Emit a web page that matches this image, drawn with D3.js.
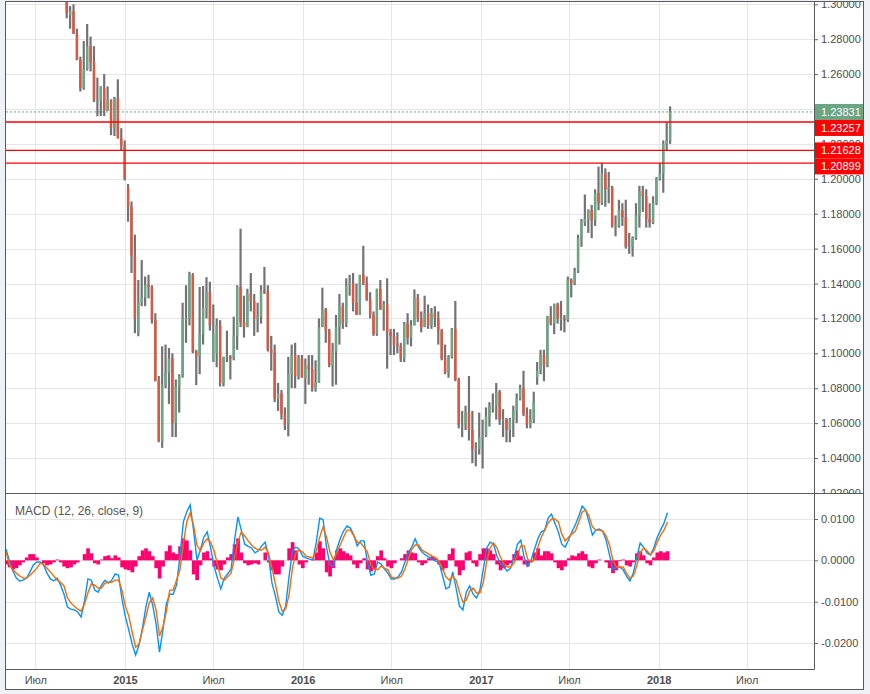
<!DOCTYPE html>
<html>
<head>
<meta charset="utf-8">
<script src="https://cdn.jsdelivr.net/npm/d3@7/dist/d3.min.js"></script>
<style>
html,body{margin:0;padding:0;background:#eef1f5;}
svg{display:block;}
text{font-family:"Liberation Sans",Arial,Helvetica,sans-serif;}
</style>
</head>
<body>
<svg id="chart" width="870" height="694"></svg>
<script>
// ---------------- DATA (EUR/USD, weekly candles) ----------------
const candleStart = "2014-09-03T12:00:00Z"; // mid-week of first candle, one candle per week
const openP = [
1.3130,1.2940,1.2960,1.2830,1.2680,1.2520,1.2630,1.2760,1.2670,1.2450,1.2450,1.2520,1.2390,1.2450,1.2290,1.2460,1.2230,1.2190,
1.1950,1.1840,1.1560,1.1120,1.1290,1.1320,1.1390,1.1380,1.1190,1.0840,1.0495,1.0820,1.0890,1.0970,1.0600,1.0810,1.0870,1.1200,1.1200,1.1450,
1.1010,1.0980,1.1110,1.1260,1.1350,1.0950,1.1000,1.1160,1.0830,1.0980,1.0980,1.0970,1.1100,1.1380,1.1180,1.1150,1.1340,1.1300,1.1200,1.1210,
1.1360,1.1350,1.1020,1.1000,1.0740,1.0770,1.0650,1.0590,1.0880,1.0990,1.0870,1.0970,
1.0860,1.0930,1.0910,1.0800,1.0830,1.1150,1.1250,1.1130,1.0930,1.1010,1.1150,1.1270,1.1170,1.1390,1.1400,1.1290,1.1220,1.1450,1.1400,1.1310,
1.1220,1.1110,1.1370,1.1250,1.1280,1.1120,1.1100,1.1050,1.1040,1.0970,1.1170,1.1090,1.1160,1.1320,1.1200,1.1150,1.1230,1.1160,1.1230,1.1200,
1.1130,1.0970,1.0890,1.0980,1.1140,1.0850,1.0590,1.0590,1.0660,1.0560,1.0450,1.0450,
1.0520,1.0530,1.0640,1.0700,1.0700,1.0780,1.0620,1.0620,1.0560,1.0620,1.0670,1.0740,1.0800,1.0650,1.0590,1.0620,1.0860,1.0900,1.0990,1.0930,
1.1210,1.1170,1.1280,1.1200,1.1200,1.1190,1.1420,1.1400,1.1470,1.1660,1.1750,1.1770,1.1820,1.1760,1.1920,1.1860,1.2030,1.1940,1.1950,1.1730,
1.1730,1.1820,1.1780,1.1610,1.1610,1.1660,1.1790,1.1930,1.1900,1.1770,1.1750,1.1860,
1.2000,1.2030,1.2200,1.2220];
const highP = [
1.3160,1.2990,1.3000,1.2860,1.2700,1.2790,1.2887,1.2815,1.2760,1.2580,1.2530,1.2600,1.2530,1.2456,1.2470,1.2570,1.2290,1.2220,
1.1970,1.1870,1.1680,1.1420,1.1534,1.1440,1.1450,1.1390,1.1230,1.0870,1.1040,1.1050,1.1030,1.1000,1.0850,1.0880,1.1290,1.1390,1.1467,1.1460,
1.1020,1.1380,1.1386,1.1436,1.1410,1.1280,1.1200,1.1190,1.0980,1.1130,1.0990,1.1210,1.1390,1.1714,1.1330,1.1370,1.1460,1.1340,1.1290,1.1390,
1.1495,1.1390,1.1100,1.1050,1.0830,1.0790,1.0690,1.0980,1.1050,1.1060,1.0990,1.0990,
1.0970,1.0990,1.0990,1.0960,1.1200,1.1376,1.1260,1.1140,1.1060,1.1220,1.1340,1.1290,1.1430,1.1450,1.1460,1.1400,1.1450,1.1616,1.1440,1.1350,
1.1240,1.1370,1.1420,1.1300,1.1430,1.1140,1.1140,1.1120,1.1060,1.1180,1.1230,1.1190,1.1366,1.1340,1.1240,1.1330,1.1280,1.1260,1.1270,1.1240,
1.1140,1.1050,1.0990,1.1145,1.1300,1.0860,1.0670,1.0700,1.0870,1.0670,1.0490,1.0660,
1.0620,1.0690,1.0720,1.0770,1.0830,1.0790,1.0680,1.0630,1.0630,1.0700,1.0770,1.0820,1.0900,1.0690,1.0680,1.0780,1.0950,1.1020,1.1020,1.1215,
1.1270,1.1285,1.1290,1.1300,1.1220,1.1440,1.1430,1.1490,1.1680,1.1770,1.1910,1.1825,1.1850,1.1940,1.2070,1.2092,1.2060,1.2040,1.1960,1.1790,
1.1880,1.1860,1.1880,1.1690,1.1670,1.1860,1.1960,1.1960,1.1940,1.1860,1.1900,1.2010,
1.2090,1.2220,1.2323,1.2415];
const lowP = [
1.2920,1.2860,1.2830,1.2680,1.2500,1.2510,1.2620,1.2615,1.2440,1.2358,1.2360,1.2360,1.2390,1.2250,1.2245,1.2240,1.2160,1.1990,
1.1754,1.1460,1.1115,1.1098,1.1270,1.1270,1.1315,1.1170,1.0840,1.0490,1.0458,1.0800,1.0710,1.0520,1.0520,1.0660,1.0860,1.1060,1.1160,1.1000,
1.0818,1.0880,1.1050,1.1200,1.1130,1.0950,1.0920,1.0810,1.0810,1.0950,1.0850,1.0960,1.1020,1.1150,1.1090,1.1150,1.1240,1.1100,1.1120,1.1170,
1.1340,1.1010,1.0900,1.0720,1.0670,1.0620,1.0560,1.0524,1.0800,1.0800,1.0850,1.0860,
1.0710,1.0820,1.0780,1.0780,1.0830,1.1150,1.1060,1.0920,1.0810,1.0820,1.1050,1.1140,1.1150,1.1330,1.1240,1.1220,1.1220,1.1390,1.1300,1.1200,
1.1100,1.1100,1.1250,1.1130,1.0912,1.0990,1.0990,1.1000,1.0950,1.0950,1.1050,1.1040,1.1160,1.1180,1.1120,1.1150,1.1140,1.1140,1.1150,1.1050,
1.0960,1.0880,1.0860,1.0970,1.0840,1.0570,1.0520,1.0560,1.0500,1.0370,1.0352,1.0420,
1.0340,1.0520,1.0580,1.0660,1.0620,1.0590,1.0520,1.0490,1.0490,1.0520,1.0600,1.0730,1.0640,1.0570,1.0570,1.0600,1.0820,1.0880,1.0840,1.0920,
1.1160,1.1110,1.1170,1.1130,1.1120,1.1180,1.1320,1.1390,1.1460,1.1610,1.1730,1.1690,1.1660,1.1730,1.1820,1.1850,1.1840,1.1860,1.1720,1.1670,
1.1720,1.1730,1.1600,1.1570,1.1554,1.1650,1.1720,1.1810,1.1720,1.1720,1.1740,1.1850,
1.1990,1.1920,1.2160,1.2200];
const closeP = [
1.2950,1.2960,1.2830,1.2680,1.2520,1.2630,1.2760,1.2670,1.2450,1.2450,1.2530,1.2390,1.2450,1.2290,1.2460,1.2230,1.2190,1.2000,
1.1840,1.1560,1.1200,1.1290,1.1320,1.1390,1.1380,1.1190,1.0840,1.0495,1.0820,1.0890,1.0970,1.0600,1.0810,1.0870,1.1200,1.1200,1.1450,1.1010,
1.0980,1.1110,1.1260,1.1350,1.1160,1.1110,1.1160,1.0830,1.0980,1.0980,1.0970,1.1100,1.1380,1.1180,1.1150,1.1340,1.1300,1.1200,1.1210,1.1360,
1.1350,1.1020,1.1000,1.0740,1.0770,1.0650,1.0590,1.0880,1.0990,1.0870,1.0970,1.0860,
1.0930,1.0910,1.0800,1.0830,1.1150,1.1250,1.1130,1.0930,1.1010,1.1150,1.1270,1.1170,1.1390,1.1400,1.1290,1.1220,1.1450,1.1400,1.1310,1.1220,
1.1110,1.1370,1.1250,1.1280,1.1120,1.1100,1.1050,1.1040,1.0970,1.1170,1.1090,1.1160,1.1320,1.1200,1.1150,1.1230,1.1160,1.1230,1.1200,1.1130,
1.0970,1.0890,1.0980,1.1140,1.0850,1.0590,1.0590,1.0660,1.0560,1.0450,1.0450,1.0520,
1.0530,1.0640,1.0700,1.0700,1.0780,1.0620,1.0620,1.0560,1.0620,1.0670,1.0740,1.0800,1.0650,1.0590,1.0620,1.0720,1.0900,1.0990,1.0930,1.1210,
1.1170,1.1280,1.1200,1.1200,1.1190,1.1420,1.1400,1.1470,1.1660,1.1750,1.1770,1.1820,1.1760,1.1920,1.1860,1.2030,1.1940,1.1950,1.1730,1.1730,
1.1820,1.1780,1.1610,1.1610,1.1660,1.1790,1.1930,1.1900,1.1770,1.1750,1.1860,1.2000,
1.2030,1.2200,1.2220,1.2383];

// MACD pane, one reading per week, values in units of 0.0001
const macdStart = "2014-05-02T00:00:00Z";
const macdPips = [
27,-2,-26,-43,-50,-48,-43,-28,-11,-4, -4,-11,-31,-45,-50,-43,-60,-82,-113,-118,
-120,-125,-137,-99,-45,-48,-72,-77,-60,-48, -55,-48,-33,-36,-94,-137,-169,-203,-229,-205,
-164,-113,-77,-108,-154,-222,-169,-106,-82,-82, -60,10,93,117,134,73,0,25,56,69,
30,-14,-43,-69,-43,-33,-21,47,105,73, 39,34,30,18,23,35,44,10,-55,-86,
-125,-133,-111,-40,23,32,27,10,6,3, 1,44,102,98,32,-11,-16,27,52,71,
83,78,61,35,47,47,-4,-36,-33,-4, -9,-21,-31,-45,-45,-40,-28,-4,18,32,
52,32,20,13,8,3,-2,-4,-36,-69, -65,-28,-67,-111,-120,-77,-62,-82,-91,-72,
-21,30,44,39,10,-7,-16,-26,-19,6, 39,49,6,-14,1,27,52,69,73,102,
112,90,69,39,32,49,69,86,107,131, 122,93,61,73,76,71,49,13,-21,-19,
-16,-23,-38,-50,-31,6,42,32,18,13, 30,56,73,90,115];
const signalPips = [
20,-11,-23,-31,-38,-43,-43,-36,-28,-19, -7,-9,-19,-28,-38,-48,-53,-62,-91,-103,
-111,-118,-123,-106,-79,-57,-60,-67,-67,-55, -53,-53,-48,-48,-72,-111,-135,-174,-210,-203,
-169,-137,-103,-91,-120,-183,-161,-125,-72,-72, -48,-23,40,93,115,85,37,23,42,52,
44,23,-9,-43,-48,-40,-31,6,44,69, 59,47,37,30,25,25,32,18,-19,-57,
-99,-123,-118,-84,-19,18,25,20,10,8, 6,23,56,81,56,20,1,18,37,56,
73,73,59,44,42,32,20,-11,-21,-23, -14,-19,-23,-40,-43,-43,-38,-21,3,27,
37,37,25,20,15,10,6,-2,-19,-40, -48,-38,-48,-77,-101,-96,-74,-67,-79,-79,
-53,-2,30,42,30,8,-9,-16,-16,-7, 13,35,35,3,-4,1,32,56,73,90,
100,100,93,64,47,56,64,71,93,117, 122,107,81,73,73,71,59,37,1,-16,
-16,-16,-31,-43,-38,-14,18,30,23,13, 23,44,61,73,93];
const histPips = [
-10,-17,-22,-19,-12,-5,7,15,15,7, 0,-7,-12,-10,-5,2,-5,-15,-19,-17,
-10,-5,0,15,29,17,-7,-10,2,10, 12,5,12,7,-17,-22,-24,-29,-15,10,
24,29,22,10,-19,-44,-15,22,36,19, 15,34,53,48,24,-34,-48,-12,19,22,
5,-15,-22,-24,-10,7,15,39,53,19, -7,-12,-10,-7,-10,0,19,-5,-24,-34,
-34,-15,0,29,44,24,-10,-19,-5,0, 2,19,46,29,-29,-39,-19,24,29,22,
17,12,-10,-19,-7,5,-22,-27,-22,10, 24,5,-15,-19,-7,0,5,15,24,19,
17,-5,-12,-7,5,10,5,-10,-24,-19, 15,29,-15,-36,-24,19,22,-7,-15,15,
29,29,24,15,-10,-24,-19,-12,-7,15, 24,10,-10,-15,-5,19,29,12,22,22,
17,-5,-19,-24,-15,5,12,10,17,22, 15,-15,-19,-7,2,0,-5,-19,-31,-24,
-2,2,-12,-15,-5,17,22,12,-7,-12, 7,19,22,19,22];

const priceTicks = [1.02,1.04,1.06,1.08,1.10,1.12,1.14,1.16,1.18,1.20,1.22,1.24,1.26,1.28,1.30];
const macdTicks = [0.01,0,-0.01,-0.02];
const timeTicks = ["2014-07-01","2015-01-01","2015-07-01","2016-01-01","2016-07-01","2017-01-01","2017-07-01","2018-01-01","2018-07-01"];
const timeTickLabels = ["Июл","2015","Июл","2016","Июл","2017","Июл","2018","Июл"];
const levelLines = [1.23257, 1.21628, 1.20899];
const lastPrice = 1.23831;
const macdTitle = "MACD (12, 26, close, 9)";

// ---------------- LAYOUT ----------------
const L = 6, R = 814, mainTop = 2, mainBot = 493, macdTop = 494, macdBot = 669;
const svg = d3.select("#chart");

const x = d3.scaleUtc()
  .domain([new Date(Date.UTC(2014,4,1,20)), new Date(Date.UTC(2018,10,16))])
  .range([L, R]);
const yP = d3.scaleLinear().domain([1.30, 1.02]).range([4.3, 492.9]);
const yM = d3.scaleLinear().domain([0.01, -0.02]).range([519, 643]);

const candles = openP.map((o, i) => ({
  date: d3.utcDay.offset(new Date(candleStart), 7 * i),
  o, h: highP[i], l: lowP[i], c: closeP[i]
}));
const macd = macdPips.map((v, i) => ({
  date: d3.utcDay.offset(new Date(macdStart), 7 * i),
  m: v / 10000, s: signalPips[i] / 10000, h: histPips[i] / 10000
}));
const tickDates = timeTicks.map(t => new Date(t + "T00:00:00Z"));

// background / frame
svg.append("rect").attr("x", 5.5).attr("y", 1.5).attr("width", 858).attr("height", 688)
  .attr("fill", "#ffffff");

const defs = svg.append("defs");
defs.append("clipPath").attr("id", "clipMain").append("rect")
  .attr("x", L).attr("y", mainTop).attr("width", R - L).attr("height", mainBot - mainTop);
defs.append("clipPath").attr("id", "clipMacd").append("rect")
  .attr("x", L).attr("y", macdTop).attr("width", R - L).attr("height", macdBot - macdTop);
defs.append("clipPath").attr("id", "clipAxisMain").append("rect")
  .attr("x", R).attr("y", mainTop).attr("width", 60).attr("height", mainBot - mainTop);
defs.append("clipPath").attr("id", "clipAxisMacd").append("rect")
  .attr("x", R).attr("y", macdTop).attr("width", 60).attr("height", macdBot - macdTop);

const gridColor = "#e6e6e6";
// grid - main pane
const gMainGrid = svg.append("g").attr("clip-path", "url(#clipMain)");
gMainGrid.selectAll("line.h").data(priceTicks).join("line")
  .attr("x1", L).attr("x2", R)
  .attr("y1", d => Math.round(yP(d)) + 0.5).attr("y2", d => Math.round(yP(d)) + 0.5)
  .attr("stroke", gridColor);
gMainGrid.selectAll("line.v").data(tickDates).join("line")
  .attr("x1", d => Math.round(x(d)) + 0.5).attr("x2", d => Math.round(x(d)) + 0.5)
  .attr("y1", mainTop).attr("y2", mainBot).attr("stroke", gridColor);
// grid - macd pane
const gMacdGrid = svg.append("g").attr("clip-path", "url(#clipMacd)");
gMacdGrid.selectAll("line.h").data(macdTicks).join("line")
  .attr("x1", L).attr("x2", R)
  .attr("y1", d => Math.round(yM(d)) + 0.5).attr("y2", d => Math.round(yM(d)) + 0.5)
  .attr("stroke", gridColor);
gMacdGrid.selectAll("line.v").data(tickDates).join("line")
  .attr("x1", d => Math.round(x(d)) + 0.5).attr("x2", d => Math.round(x(d)) + 0.5)
  .attr("y1", macdTop).attr("y2", macdBot).attr("stroke", gridColor);

// candles
const gC = svg.append("g").attr("clip-path", "url(#clipMain)");
gC.selectAll("line.wick").data(candles).join("line")
  .attr("x1", d => x(d.date)).attr("x2", d => x(d.date))
  .attr("y1", d => yP(d.h)).attr("y2", d => yP(d.l))
  .attr("stroke", "#737375").attr("stroke-width", 2.2);
gC.selectAll("rect.body").data(candles).join("rect")
  .attr("x", d => x(d.date) - 1.2).attr("width", 2.4)
  .attr("y", d => yP(Math.max(d.o, d.c)))
  .attr("height", d => Math.max(1, yP(Math.min(d.o, d.c)) - yP(Math.max(d.o, d.c))))
  .attr("fill", d => d.c >= d.o ? "#6ba583" : "#e0553f");

// level lines
gC.selectAll("line.lvl").data(levelLines).join("line")
  .attr("x1", L).attr("x2", R)
  .attr("y1", d => yP(d)).attr("y2", d => yP(d))
  .attr("stroke", "#ff0000").attr("stroke-width", 1.4);
gC.append("line").attr("x1", L).attr("x2", R)
  .attr("y1", yP(lastPrice)).attr("y2", yP(lastPrice))
  .attr("stroke", "#6ba583").attr("stroke-width", 1).attr("stroke-dasharray", "2,2");

// MACD pane
const gM = svg.append("g").attr("clip-path", "url(#clipMacd)");
const barW = x(d3.utcDay.offset(new Date(macdStart), 7)) - x(new Date(macdStart));
gM.selectAll("rect.hist").data(macd).join("rect")
  .attr("x", d => x(d.date) - barW / 2).attr("width", barW + 0.3)
  .attr("y", d => Math.min(yM(0), yM(d.h)))
  .attr("height", d => Math.abs(yM(d.h) - yM(0)))
  .attr("fill", "#ff006e");
gM.append("path").datum(macd)
  .attr("d", d3.line().x(d => x(d.date)).y(d => yM(d.m)))
  .attr("fill", "none").attr("stroke", "#0094ff").attr("stroke-width", 1.4);
gM.append("path").datum(macd)
  .attr("d", d3.line().x(d => x(d.date)).y(d => yM(d.s)))
  .attr("fill", "none").attr("stroke", "#ff6a00").attr("stroke-width", 1.4);

svg.append("text").attr("x", 15).attr("y", 515).attr("font-size", 12)
  .attr("fill", "#555").text(macdTitle);

// price labels (last price + level lines), pushed apart to avoid overlap
const labels = [{v: lastPrice, fill: "#6ba583"}]
  .concat(levelLines.map(v => ({v, fill: "#ff0000"})))
  .sort((a, b) => yP(a.v) - yP(b.v));
const LH = 16;
let prevBottom = -Infinity;
labels.forEach(lb => {
  let c = yP(lb.v);
  if (c - LH / 2 < prevBottom) c = prevBottom + LH / 2;
  lb.cy = c; prevBottom = c + LH / 2;
});

// price axis (tick labels hidden where a price label box sits on top of them)
const axisColor = "#4d4d4d";
const visibleTicks = priceTicks.filter(t => !labels.some(lb => Math.abs(yP(t) - lb.cy) < 5));
const gPA = svg.append("g").attr("clip-path", "url(#clipAxisMain)")
  .append("g").attr("transform", `translate(${R},0)`)
  .call(d3.axisRight(yP).tickValues(visibleTicks).tickSize(4).tickPadding(3)
    .tickFormat(d => d.toFixed(5)));
gPA.select(".domain").remove();
gPA.selectAll("line").attr("stroke", "#666");
gPA.selectAll("text").attr("font-size", 11).attr("fill", axisColor)
  .attr("font-family", "'Liberation Sans',Arial,sans-serif");

const gMA = svg.append("g").attr("clip-path", "url(#clipAxisMacd)")
  .append("g").attr("transform", `translate(${R},0)`)
  .call(d3.axisRight(yM).tickValues(macdTicks).tickSize(4).tickPadding(3)
    .tickFormat(d => d.toFixed(4)));
gMA.select(".domain").remove();
gMA.selectAll("line").attr("stroke", "#666");
gMA.selectAll("text").attr("font-size", 11).attr("fill", axisColor)
  .attr("font-family", "'Liberation Sans',Arial,sans-serif");

const gLab = svg.append("g");
gLab.selectAll("rect").data(labels).join("rect")
  .attr("x", R).attr("width", 49.5).attr("y", d => d.cy - LH / 2).attr("height", LH)
  .attr("fill", d => d.fill);
gLab.selectAll("text").data(labels).join("text")
  .attr("x", R + 7).attr("y", d => d.cy).attr("dy", "0.36em")
  .attr("font-size", 11).attr("fill", "#ffffff").text(d => d.v.toFixed(5));

// time axis
const gT = svg.append("g").attr("transform", `translate(0,${macdBot})`)
  .call(d3.axisBottom(x).tickValues(tickDates).tickSize(0).tickPadding(7)
    .tickFormat((d, i) => timeTickLabels[i]));
gT.select(".domain").remove();
gT.selectAll("text").attr("font-size", 11).attr("fill", axisColor)
  .attr("font-family", "'Liberation Sans',Arial,sans-serif")
  .attr("font-weight", (d, i) => /^\d+$/.test(timeTickLabels[i]) ? "bold" : "normal");

// pane borders and frame
const frameColor = "#5a5a5a";
svg.append("line").attr("x1", 5.5).attr("x2", 863.5).attr("y1", mainBot + 0.5).attr("y2", mainBot + 0.5)
  .attr("stroke", frameColor);
svg.append("line").attr("x1", 5.5).attr("x2", R + 0.5).attr("y1", macdBot + 0.5).attr("y2", macdBot + 0.5)
  .attr("stroke", frameColor);
svg.append("line").attr("x1", R + 0.5).attr("x2", R + 0.5).attr("y1", 1.5).attr("y2", macdBot + 0.5)
  .attr("stroke", frameColor);
svg.append("rect").attr("x", 5.5).attr("y", 1.5).attr("width", 858).attr("height", 688)
  .attr("fill", "none").attr("stroke", frameColor);
</script>
</body>
</html>
